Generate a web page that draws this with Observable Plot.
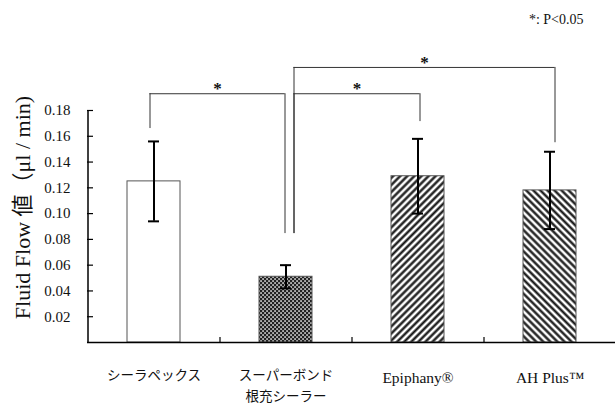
<!DOCTYPE html>
<html><head><meta charset="utf-8">
<script src="https://cdn.jsdelivr.net/npm/d3@7"></script>
<script src="https://cdn.jsdelivr.net/npm/@observablehq/plot@0.6"></script>
<style>
html,body{margin:0;padding:0;background:#fff;}
</style></head><body><div id="chart"></div>
<script>
// ---- data ----
const categories = ["シーラペックス", "スーパーボンド根充シーラー", "Epiphany®", "AH Plus™"];
const labels = ["シーラペックス", "スーパーボンド\n根充シーラー", "Epiphany®", "AH Plus™"];
const means = [0.125, 0.051, 0.129, 0.118];
const errors = [0.031, 0.009, 0.029, 0.030];
const fills = ["white", "url(#cross)", "url(#fwd)", "url(#back)"];
const yTicks = [0.02, 0.04, 0.06, 0.08, 0.10, 0.12, 0.14, 0.16, 0.18];
// significance brackets: indices of compared groups, bracket top and leg ends (in y units)
const bracketFrom = [0, 1, 1];
const bracketTo = [1, 3, 2];
const bracketTop = [0.193, 0.2134, 0.193];
const bracketFromEnd = [0.166, 0.0845, 0.0845];
const bracketToEnd = [0.0845, 0.155, 0.1714];
const bracketStar = [0.197, 0.217, 0.197];
const bracketText = ["*", "*", "*"];
const noteText = "*: P<0.05";
const yLabel = "Fluid Flow 値（μl / min)";

// leg offsets (style)
const legDxFrom = [-4, 8, 8];
const legDxTo = [-1, 5, 2];

const data = categories.map((c, i) => ({cat: c, mean: means[i], err: errors[i], fill: fills[i], label: labels[i]}));

const W = 615, H = 407, mL = 87, mR = 0, mT = 110, mB = 65;
const padIn = 0.6, padOut = 0.3;
const step = (W - mL - mR) / categories.length;
const bw = step * (1 - padIn);
const frameW = W - mL - mR, frameH = H - mT - mB;
const font = "'Liberation Serif', 'Noto Sans CJK JP', serif";
const lineColor = "#333";
const isCJK = s => /[^\x00-\x7F®™]/.test(s);

const marks = [
  // bars
  Plot.barY(data, {x: "cat", y: "mean", fill: "fill", stroke: "#555", strokeWidth: 1}),
  // error bars
  Plot.ruleX(data, {x: "cat", y1: d => d.mean - d.err, y2: d => d.mean + d.err, stroke: "#000", strokeWidth: 2}),
  Plot.tickY(data, {x: "cat", y: d => d.mean + d.err, stroke: "#000", strokeWidth: 2, insetLeft: 21, insetRight: 21}),
  Plot.tickY(data, {x: "cat", y: d => d.mean - d.err, stroke: "#000", strokeWidth: 2, insetLeft: 21, insetRight: 21}),
  // baseline & y axis line
  Plot.ruleY([0], {stroke: "#000", strokeWidth: 1.5}),
  Plot.tickX([categories[0]], {x: d => d, dx: -step / 2, stroke: "#000", strokeWidth: 1.5}),
  // inward y ticks
  Plot.tickY(yTicks, {y: d => d, insetRight: frameW - 6, stroke: "#000", strokeWidth: 1.2}),
  Plot.axisY({ticks: yTicks, tickSize: 0, tickPadding: 17, tickFormat: d3.format(".2f"), fontSize: 15, fontFamily: font, label: null}),
  // category separators
  Plot.tickX(categories.slice(1), {x: d => d, dx: -step / 2, insetTop: frameH - 5, stroke: "#000", strokeWidth: 1.2}),
  // category labels
  Plot.text(data, {x: "cat", text: "label", frameAnchor: "bottom", lineAnchor: "top", dy: 23, lineHeight: 1.55,
    fontSize: d => isCJK(d.label) ? 13.5 : 15.5, fontFamily: font, fontWeight: "normal", fill: "#111"}),
  // y label
  Plot.text([yLabel], {frameAnchor: "left", textAnchor: "middle", rotate: -90, dx: -65, dy: -19, fontSize: 22, fontFamily: font, fill: "#111"}),
  // note
  Plot.text([noteText], {frameAnchor: "top-right", textAnchor: "end", dx: -32, dy: -96, fontSize: 14, fontFamily: font, fill: "#111"})
];

bracketFrom.forEach((f, i) => {
  const a = categories[f], b = categories[bracketTo[i]];
  const rec = [{a, b, top: bracketTop[i], fe: bracketFromEnd[i], te: bracketToEnd[i], star: bracketStar[i], t: bracketText[i]}];
  marks.push(
    Plot.ruleY(rec, {y: "top", x1: "a", x2: "b", insetLeft: legDxFrom[i] + bw / 2, insetRight: -legDxTo[i] + bw / 2, stroke: lineColor, strokeWidth: 1}),
    Plot.ruleX(rec, {x: "a", y1: "fe", y2: "top", dx: legDxFrom[i], stroke: lineColor, strokeWidth: 1}),
    Plot.ruleX(rec, {x: "b", y1: "te", y2: "top", dx: legDxTo[i], stroke: lineColor, strokeWidth: 1}),
    Plot.text(rec, {x: "a", y: "star", text: "t", dx: ((bracketTo[i] - f) * step + legDxTo[i] - legDxFrom[i]) / 2 + legDxFrom[i], fontSize: 17, fontWeight: "bold", fontFamily: font, fill: "#111"})
  );
});

const chart = Plot.plot({
  width: W, height: H,
  marginLeft: mL, marginRight: mR, marginTop: mT, marginBottom: mB,
  style: {fontFamily: font, background: "white", color: "#111"},
  x: {domain: categories, paddingInner: padIn, paddingOuter: padOut, axis: null},
  y: {domain: [0, 0.18], axis: null},
  color: {type: "identity"},
  marks
});

const defs = document.createElementNS("http://www.w3.org/2000/svg", "defs");
defs.innerHTML = `
  <pattern id="cross" width="4" height="4" patternUnits="userSpaceOnUse">
    <rect width="4" height="4" fill="#222"/>
    <rect x="0.3" y="0.3" width="1.5" height="1.5" fill="#fff"/>
    <rect x="2.3" y="2.3" width="1.5" height="1.5" fill="#fff"/>
  </pattern>
  <pattern id="fwd" width="5" height="5" patternUnits="userSpaceOnUse" patternTransform="rotate(45)">
    <rect width="5" height="5" fill="#fff"/>
    <line x1="2.5" y1="0" x2="2.5" y2="5" stroke="#111" stroke-width="2.3"/>
  </pattern>
  <pattern id="back" width="5" height="5" patternUnits="userSpaceOnUse" patternTransform="rotate(-45)">
    <rect width="5" height="5" fill="#fff"/>
    <line x1="2.5" y1="0" x2="2.5" y2="5" stroke="#111" stroke-width="2.3"/>
  </pattern>`;
chart.insertBefore(defs, chart.firstChild);
document.getElementById("chart").appendChild(chart);
</script>
</body></html>
